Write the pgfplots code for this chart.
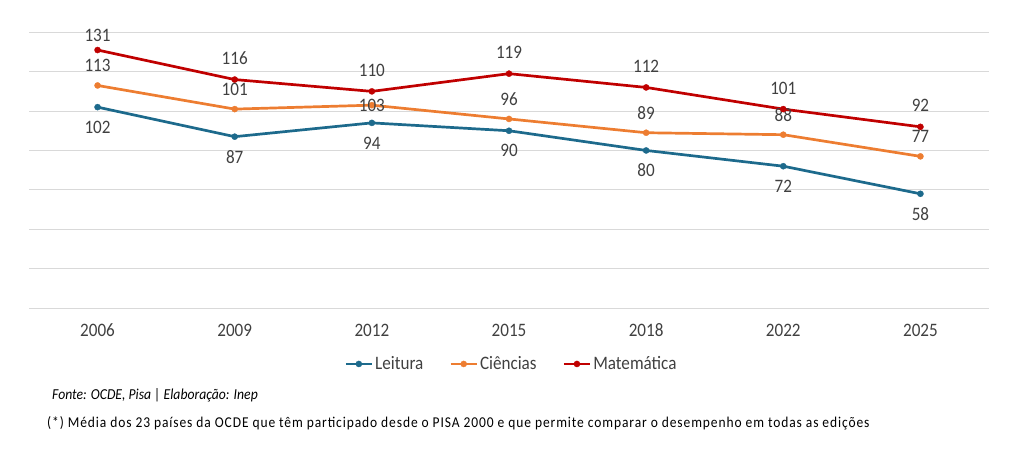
\documentclass[border=0pt]{standalone}
\usepackage{pgfplots}
\pgfplotsset{compat=1.18}
\usepackage{fontspec}
\setmainfont{Carlito}[FakeStretch=0.9]
\definecolor{cLei}{HTML}{1D6A8C}
\definecolor{cCie}{HTML}{ED7D31}
\definecolor{cMat}{HTML}{C00000}
\definecolor{grid}{HTML}{D9D9D9}
\definecolor{txt}{HTML}{404040}
\begin{document}
\begin{tikzpicture}
\path[use as bounding box] (0,0) rectangle (1022pt,448pt);
\begin{axis}[
  at={(29pt,140pt)}, anchor=south west,
  scale only axis, width=960pt, height=275.7pt,
  xmin=-0.5, xmax=6.5, ymin=0, ymax=140,
  xtick={0,1,2,3,4,5,6},
  xticklabels={2006,2009,2012,2015,2018,2022,2025},
  ytick={0,20,40,60,80,100,120,140},
  yticklabels={},
  ymajorgrids, major grid style={color=grid, line width=0.9pt},
  axis line style={draw=none},
  tick style={draw=none},
  /pgf/number format/assume math mode=true,
  xticklabel style={anchor=center, yshift=-22pt, inner sep=0pt, font=\fontsize{19}{22}\selectfont, text=txt},
  clip=false,
  legend columns=3,
  legend style={at={(0.5026,-0.203)}, anchor=center, draw=none, fill=none,
    font=\fontsize{19}{22}\selectfont, text=txt,
    /tikz/every even column/.append style={column sep=24pt},
    inner sep=0pt},
  legend image code/.code={\draw[#1, mark repeat=2, mark phase=2] plot coordinates {(0pt,0pt) (13pt,0pt) (26pt,0pt)};},
  every axis plot/.append style={line width=2.7pt, mark=*, mark size=3.1pt},
  nodes near coords={\pgfmathprintnumber[assume math mode=true]{\pgfplotspointmeta}},
  every node near coord/.append style={font=\fontsize{19}{22}\selectfont, text=txt, anchor=center, inner sep=0pt},
]
\addplot[color=cLei, mark options={fill=cLei, draw=cLei, line width=0.3pt},
  every node near coord/.append style={yshift=-20pt}]
  coordinates {(0,102) (1,87) (2,94) (3,90) (4,80) (5,72) (6,58)};
\addlegendentry{Leitura}
\addplot[color=cCie, mark options={fill=cCie, draw=cCie, line width=0.3pt},
  every node near coord/.append style={yshift=20pt},
  coordinate style/.condition={x==2}{yshift=-20pt}]
  coordinates {(0,113) (1,101) (2,103) (3,96) (4,89) (5,88) (6,77)};
\addlegendentry{Ciências}
\addplot[color=cMat, mark options={fill=cMat, draw=cMat, line width=0.3pt},
  every node near coord/.append style={yshift=21pt},
  coordinate style/.condition={x==0}{yshift=-6pt}]
  coordinates {(0,131) (1,116) (2,110) (3,119) (4,112) (5,101) (6,92)};
\addlegendentry{Matemática}
\end{axis}
\node[anchor=west, inner sep=0pt, text=black, font=\fontsize{15.2}{18}\selectfont\itshape] at (52pt,53pt) {Fonte: OCDE, Pisa | Elaboração: Inep};
\node[anchor=west, inner sep=0pt, text=black, font=\fontsize{15}{18}\selectfont\addfontfeatures{LetterSpace=6}] at (47pt,25pt) {(*) Média dos 23 países da OCDE que têm participado desde o PISA 2000 e que permite comparar o desempenho em todas as edições};
\end{tikzpicture}
\end{document}
